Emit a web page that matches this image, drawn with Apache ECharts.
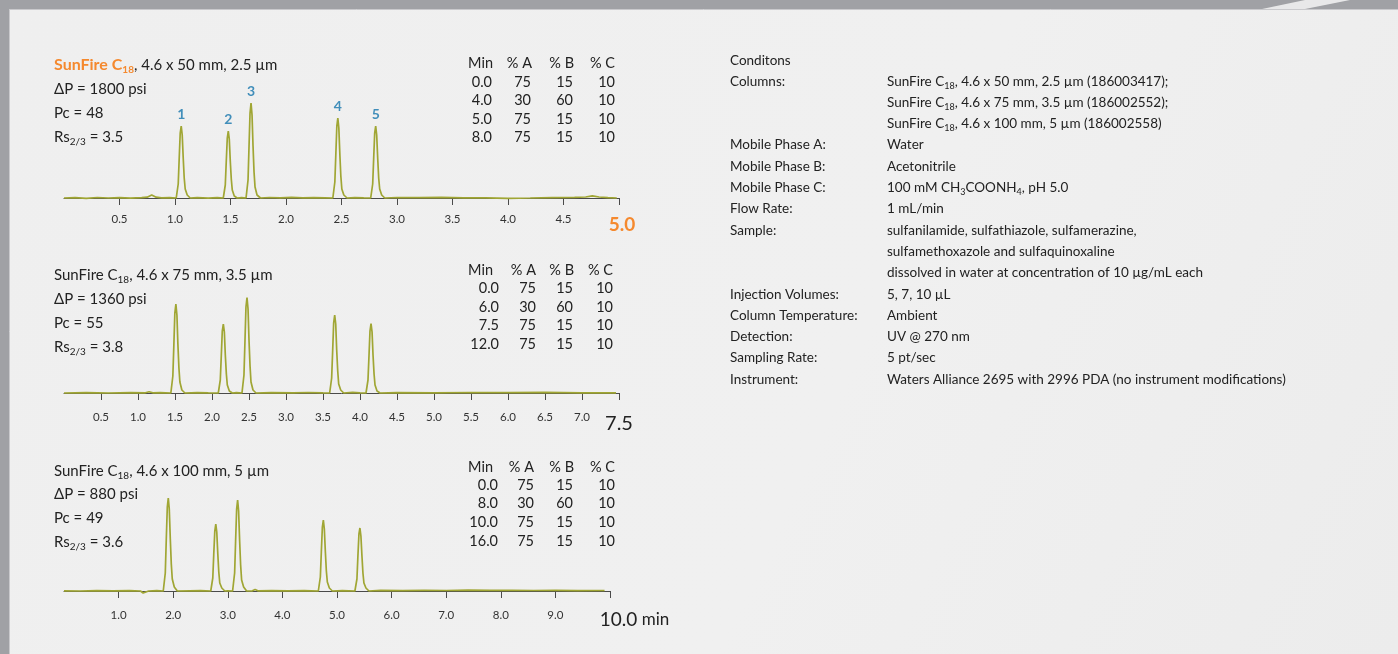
<!DOCTYPE html>
<html><head><meta charset="utf-8">
<script src="https://cdn.jsdelivr.net/npm/echarts@6/dist/echarts.min.js"></script>
<style>html,body{margin:0;padding:0;background:#f0f0f0}#c{width:1398px;height:654px}</style>
</head><body><div id="c"></div>
<script>
// ---------- DATA ----------
const topTicks = [0.5,1.0,1.5,2.0,2.5,3.0,3.5,4.0,4.5,5.0];
const midTicks = [0.5,1.0,1.5,2.0,2.5,3.0,3.5,4.0,4.5,5.0,5.5,6.0,6.5,7.0,7.5];
const botTicks = [1,2,3,4,5,6,7,8,9,10];

const topTrace = [
[0.00,0.0000],[0.10,0.0004],[0.20,-0.0003],[0.30,0.0005],[0.40,0.0000],[0.50,0.0004],[0.60,-0.0002],[0.70,0.0003],[0.75,0.0008],[0.79,0.0030],[0.83,0.0008],[0.88,0.0002],[0.95,0.0004],
[1.011,0.000],[1.029,0.014],[1.038,0.040],[1.047,0.065],[1.056,0.072],[1.065,0.063],[1.074,0.040],[1.083,0.020],[1.092,0.009],[1.110,0.003],[1.137,0.000],
[1.20,0.0004],[1.30,-0.0002],[1.38,0.0003],
[1.435,0.000],[1.453,0.013],[1.462,0.037],[1.471,0.060],[1.480,0.067],[1.489,0.059],[1.498,0.037],[1.507,0.019],[1.516,0.008],[1.534,0.002],[1.560,0.000],
[1.60,0.0003],
[1.640,0.000],[1.658,0.018],[1.667,0.052],[1.676,0.085],[1.685,0.095],[1.694,0.083],[1.703,0.052],[1.712,0.026],[1.721,0.011],[1.739,0.003],[1.770,0.000],
[1.85,0.0005],[1.95,0.0002],[2.05,0.0006],[2.15,0.0001],[2.25,0.0004],[2.35,0.0002],
[2.422,0.000],[2.440,0.016],[2.449,0.044],[2.458,0.072],[2.467,0.080],[2.476,0.070],[2.485,0.044],[2.494,0.022],[2.503,0.009],[2.521,0.003],[2.550,0.000],
[2.62,0.0004],[2.70,0.0001],
[2.763,0.000],[2.781,0.014],[2.790,0.040],[2.799,0.065],[2.808,0.072],[2.817,0.063],[2.826,0.040],[2.835,0.020],[2.844,0.009],[2.862,0.003],[2.890,0.000],
[3.00,0.0005],[3.20,0.0003],[3.40,0.0006],[3.60,0.0002],[3.80,0.0001],[4.00,-0.0003],[4.20,0.0000],[4.40,0.0004],[4.60,0.0006],[4.70,0.0010],[4.76,0.0022],[4.82,0.0010],[4.90,0.0003],[4.98,0.0000]
];

const midTrace = [
[0.00,0.0000],[0.30,0.0003],[0.60,0.0000],[0.90,0.0004],[1.10,0.0002],[1.15,0.0012],[1.20,0.0002],[1.30,0.0003],
[1.444,0.000],[1.471,0.017],[1.485,0.049],[1.498,0.080],[1.512,0.089],[1.526,0.078],[1.539,0.049],[1.553,0.025],[1.566,0.011],[1.593,0.003],[1.634,0.000],
[1.80,0.0004],[1.95,0.0001],
[2.085,0.000],[2.112,0.013],[2.126,0.038],[2.139,0.062],[2.153,0.069],[2.167,0.061],[2.180,0.038],[2.194,0.019],[2.207,0.008],[2.234,0.002],[2.275,0.000],
[2.33,0.0003],
[2.405,0.000],[2.432,0.018],[2.446,0.053],[2.459,0.086],[2.473,0.0955],[2.487,0.084],[2.500,0.053],[2.514,0.027],[2.527,0.011],[2.554,0.003],[2.595,0.000],
[2.80,0.0004],[3.10,0.0002],[3.30,0.0005],[3.50,0.0001],
[3.590,0.000],[3.617,0.015],[3.631,0.043],[3.644,0.070],[3.658,0.078],[3.672,0.069],[3.685,0.043],[3.699,0.022],[3.712,0.009],[3.739,0.003],[3.780,0.000],
[3.90,0.0006],[4.00,0.0002],
[4.081,0.000],[4.108,0.013],[4.122,0.038],[4.135,0.062],[4.149,0.0695],[4.163,0.061],[4.176,0.038],[4.190,0.019],[4.203,0.008],[4.230,0.002],[4.271,0.000],
[4.50,0.0003],[5.00,0.0001],[5.50,0.0005],[6.00,0.0003],[6.50,0.0006],[7.00,0.0002],[7.46,0.0001]
];

const botTrace = [
[0.00,0.0002],[0.30,0.0000],[0.60,0.0004],[0.90,0.0001],[1.20,0.0003],[1.40,0.0000],[1.45,-0.0020],[1.50,-0.0010],[1.55,0.0000],[1.70,0.0003],
[1.818,0.000],[1.855,0.018],[1.873,0.051],[1.892,0.084],[1.910,0.093],[1.928,0.082],[1.947,0.052],[1.965,0.027],[1.983,0.012],[2.020,0.004],[2.075,0.000],
[2.30,0.0002],[2.50,0.0004],
[2.688,0.000],[2.725,0.013],[2.743,0.037],[2.762,0.060],[2.780,0.067],[2.798,0.059],[2.817,0.037],[2.835,0.019],[2.853,0.008],[2.890,0.003],[2.945,0.000],
[3.00,0.0002],
[3.088,0.000],[3.125,0.018],[3.143,0.050],[3.162,0.082],[3.180,0.091],[3.198,0.080],[3.217,0.050],[3.235,0.026],[3.253,0.011],[3.290,0.004],[3.345,0.000],
[3.45,0.0002],[3.50,0.0015],[3.55,0.0002],[3.80,0.0003],[4.10,0.0001],[4.40,0.0004],
[4.658,0.000],[4.695,0.014],[4.713,0.039],[4.732,0.064],[4.750,0.071],[4.768,0.062],[4.787,0.039],[4.805,0.020],[4.823,0.009],[4.860,0.003],[4.915,0.000],
[5.10,0.0003],
[5.328,0.000],[5.365,0.012],[5.383,0.035],[5.402,0.057],[5.420,0.063],[5.438,0.055],[5.457,0.035],[5.475,0.018],[5.493,0.008],[5.530,0.003],[5.585,0.000],
[5.80,0.0006],[6.20,0.0004],[6.60,0.0007],[7.00,0.0005],[7.40,0.0008],[7.80,0.0006],[8.20,0.0007],[8.60,0.0005],[9.00,0.0006],[9.40,0.0004],[9.90,0.0005]
];

const peakNames = ['1','2','3','4','5'];
const topPeakTimes = [1.056,1.480,1.685,2.467,2.808];
const topPeakHeights = [0.072,0.067,0.095,0.080,0.072];

const gradHeader = ['Min','% A','% B','% C'];
const topGradient = [['0.0','75','15','10'],['4.0','30','60','10'],['5.0','75','15','10'],['8.0','75','15','10']];
const midGradient = [['0.0','75','15','10'],['6.0','30','60','10'],['7.5','75','15','10'],['12.0','75','15','10']];
const botGradient = [['0.0','75','15','10'],['8.0','30','60','10'],['10.0','75','15','10'],['16.0','75','15','10']];

const topInfo = ['{o|SunFire C}{os|18}{n|, 4.6 x 50 mm, 2.5 µm}','{n|ΔP = 1800 psi}','{n|Pc = 48}','{n|Rs}{s|2/3}{n| = 3.5}'];
const midInfo = ['{n|SunFire C}{s|18}{n|, 4.6 x 75 mm, 3.5 µm}','{n|ΔP = 1360 psi}','{n|Pc = 55}','{n|Rs}{s|2/3}{n| = 3.8}'];
const botInfo = ['{n|SunFire C}{s|18}{n|, 4.6 x 100 mm, 5 µm}','{n|ΔP = 880 psi}','{n|Pc = 49}','{n|Rs}{s|2/3}{n| = 3.6}'];

const condLabels = ['Conditons','Columns:','','','Mobile Phase A:','Mobile Phase B:','Mobile Phase C:','Flow Rate:','Sample:','','','Injection Volumes:','Column Temperature:','Detection:','Sampling Rate:','Instrument:'];
const condValues = ['',
 '{n|SunFire C}{s|18}{n|, 4.6 x 50 mm, 2.5 µm (186003417);}',
 '{n|SunFire C}{s|18}{n|, 4.6 x 75 mm, 3.5 µm (186002552);}',
 '{n|SunFire C}{s|18}{n|, 4.6 x 100 mm, 5 µm (186002558)}',
 '{n|Water}','{n|Acetonitrile}',
 '{n|100 mM CH}{s|3}{n|COONH}{s|4}{n|, pH 5.0}',
 '{n|1 mL/min}',
 '{n|sulfanilamide, sulfathiazole, sulfamerazine,}',
 '{n|sulfamethoxazole and sulfaquinoxaline}',
 '{n|dissolved in water at concentration of 10 µg/mL each}',
 '{n|5, 7, 10 µL}','{n|Ambient}','{n|UV @ 270 nm}','{n|5 pt/sec}',
 '{n|Waters Alliance 2695 with 2996 PDA (no instrument modifications)}'];

// ---------- STYLE ----------
const FONT = 'Lato, "Open Sans", sans-serif';
const TRACE = '#a0a634';
const ORANGE = '#f5892e';
const INK = '#222';

const chart = echarts.init(document.getElementById('c'), null, {renderer:'canvas'});

function xAxisCfg(grid, max, ticks, fmtMax, richExtra) {
  return {
    type:'value', gridIndex:grid, min:0, max:max, position:'bottom',
    axisLine:{show:true, lineStyle:{color:'#4a4a4a', width:1}},
    axisTick:{show:true, length:7, lineStyle:{color:'#4a4a4a'}, customValues:ticks},
    splitLine:{show:false},
    axisLabel:{
      customValues:ticks, margin:10, fontFamily:FONT, fontSize:11.5, color:'#333',
      formatter:function(v){ return Math.abs(v-max)<1e-9 ? fmtMax : v.toFixed(1); },
      rich: richExtra
    }
  };
}
function yAxisCfg(grid,min,max){ return {type:'value', gridIndex:grid, min:min, max:max, show:false}; }

const subRich = {
  n:{fontFamily:FONT, fontSize:15, fill:INK, lineHeight:19},
  s:{fontFamily:FONT, fontSize:10, fill:INK, lineHeight:19, verticalAlign:'bottom'},
  o:{fontFamily:FONT, fontSize:16, fill:ORANGE, fontWeight:'bold', lineHeight:19},
  os:{fontFamily:FONT, fontSize:10, fill:ORANGE, fontWeight:'bold', lineHeight:19, verticalAlign:'bottom'}
};
const condRich = {
  n:{fontFamily:FONT, fontSize:13.5, fill:INK, lineHeight:17},
  s:{fontFamily:FONT, fontSize:9, fill:INK, lineHeight:17, verticalAlign:'bottom'}
};

const graphics = [];
// frame
graphics.push({type:'rect', shape:{x:0,y:0,width:1398,height:9}, style:{fill:'#a0a1a5'}, z:10});
graphics.push({type:'rect', shape:{x:0,y:0,width:9,height:654}, style:{fill:'#a0a1a5'}, z:10});
graphics.push({type:'polygon', shape:{points:[[1262,9],[1305,0],[1350,0],[1305,9]]}, style:{fill:'rgba(245,245,245,0.85)'}, z:11});
graphics.push({type:'line', shape:{x1:9,y1:9.5,x2:1398,y2:9.5}, style:{stroke:'#c9c9cc', lineWidth:1}, z:11});
graphics.push({type:'line', shape:{x1:9.5,y1:9,x2:9.5,y2:654}, style:{stroke:'#c9c9cc', lineWidth:1}, z:11});

function infoBlock(lines, ys){
  lines.forEach((t,i)=>graphics.push({type:'text', style:{x:54, y:ys[i], text:t, rich:subRich, verticalAlign:'middle', align:'left'}}));
}
infoBlock(topInfo,[65,89,113,137]);
infoBlock(midInfo,[275,299,323,347]);
infoBlock(botInfo,[471,494,518,542]);

function gradBlock(rows, ys, hdrX, valX){
  gradHeader.forEach((h,j)=>graphics.push({type:'text', style:{x:hdrX[j], y:ys[0], text:h, fontFamily:FONT, fontSize:14.5, fill:INK, align:'right', verticalAlign:'middle'}}));
  rows.forEach((r,i)=>r.forEach((c,j)=>graphics.push({type:'text', style:{x:valX[j], y:ys[i+1], text:c, fontFamily:FONT, fontSize:14.5, fill:INK, align:'right', verticalAlign:'middle'}})));
}
gradBlock(topGradient,[63,82,100,119,137],[493,532,574,615],[492,531,573,615]);
gradBlock(midGradient,[270,288,307,325,344],[493,536,574,613],[499,536,573,613]);
gradBlock(botGradient,[467,485,503,522,541],[493,534,574,615],[498,534,573,615]);

const condYs = [61,82,103,124,145,167,188,209,231,252,273,295,316,337,358,380];
condLabels.forEach((t,i)=>{ if(t) graphics.push({type:'text', style:{x:730, y:condYs[i], text:t, fontFamily:FONT, fontSize:13.5, fill:INK, verticalAlign:'middle'}}); });
condValues.forEach((t,i)=>{ if(t) graphics.push({type:'text', style:{x:887, y:condYs[i], text:t, rich:condRich, verticalAlign:'middle'}}); });

const option = {
  backgroundColor:{type:'linear', x:0, y:0, x2:1, y2:1, colorStops:[{offset:0,color:'#efefef'},{offset:0.6,color:'#f0f0f0'},{offset:1,color:'#ececec'}]},
  animation:false,
  grid:[
    {left:64, width:555, top:103, height:100},
    {left:64, width:555, top:297, height:104},
    {left:64, width:546, top:498, height:101}
  ],
  xAxis:[
    xAxisCfg(0,5,topTicks,'{big|5.0}',{big:{fontFamily:FONT,fontSize:19,fontWeight:'bold',color:ORANGE,padding:[2,0,0,6]}}),
    xAxisCfg(1,7.5,midTicks,'{big|7.5}',{big:{fontFamily:FONT,fontSize:20,color:'#222',padding:[3,0,0,0]}}),
    xAxisCfg(2,10,botTicks,'{big|10.0}{unit| min}',{big:{fontFamily:FONT,fontSize:19,color:'#222',padding:[1,0,0,49]},unit:{fontFamily:FONT,fontSize:17,color:'#222',padding:[2,0,0,0]}})
  ],
  yAxis:[yAxisCfg(0,-0.005,0.095), yAxisCfg(1,-0.008,0.096), yAxisCfg(2,-0.008,0.093)],
  series:[
    {type:'line', xAxisIndex:0, yAxisIndex:0, data:topTrace, showSymbol:false, clip:false, lineStyle:{color:TRACE, width:1.7}},
    {type:'line', xAxisIndex:1, yAxisIndex:1, data:midTrace, showSymbol:false, clip:false, lineStyle:{color:TRACE, width:1.7}},
    {type:'line', xAxisIndex:2, yAxisIndex:2, data:botTrace, showSymbol:false, clip:false, lineStyle:{color:TRACE, width:1.7}},
    {type:'scatter', xAxisIndex:0, yAxisIndex:0, symbolSize:0, silent:true,
     data: topPeakTimes.map((t,i)=>({value:[t, topPeakHeights[i]], name:peakNames[i]})),
     label:{show:true, position:'top', distance:5, formatter:'{b}', color:'#1576ad', fontWeight:'bold', fontSize:14, fontFamily:FONT}}
  ],
  graphic: graphics
};
chart.setOption(option);
</script></body></html>
